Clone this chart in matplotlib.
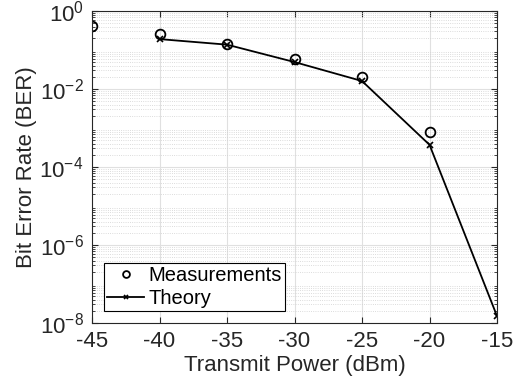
import matplotlib
matplotlib.use('Agg')
import matplotlib.pyplot as plt
import matplotlib.ticker as ticker

# Measured and theoretical BER vs transmit power
meas_power = [-45, -40, -35, -30, -25, -20]
meas_ber = [0.41, 0.25, 0.145, 0.058, 0.020, 8.1e-4]

theory_power = [-40, -35, -30, -25, -20, -15]
theory_ber = [0.19, 0.137, 0.049, 0.016, 3.7e-4, 1.5e-8]

x_ticks = [-45, -40, -35, -30, -25, -20, -15]

plt.rcParams['font.family'] = ['Liberation Sans', 'DejaVu Sans']
plt.rcParams['mathtext.fontset'] = 'custom'
plt.rcParams['mathtext.rm'] = 'Liberation Sans'
plt.rcParams['mathtext.default'] = 'regular'

fig = plt.figure(figsize=(5.21, 3.88), dpi=100)
ax = fig.add_axes([0.1766, 0.1675, 0.7774, 0.8042])

ax.semilogy(meas_power, meas_ber, linestyle='none', marker='o', markersize=7,
            markerfacecolor='none', markeredgecolor='black', markeredgewidth=1.3,
            label='Measurements')
ax.semilogy(theory_power, theory_ber, color='black', linewidth=1.3, marker='x',
            markersize=5, markeredgewidth=1.2, label='Theory')

ax.set_xlim(-45, -15)
ax.set_ylim(1e-8, 1e0)
ax.set_xticks(x_ticks)
ax.set_xticklabels([str(t) for t in x_ticks])
ax.set_yticks([1e-8, 1e-6, 1e-4, 1e-2, 1e0])
ax.yaxis.set_minor_locator(ticker.LogLocator(base=10, subs=range(2, 10), numticks=50))
ax.yaxis.set_minor_formatter(ticker.NullFormatter())

ax.grid(True, which='major', color='#e0e0e0', linewidth=0.8, linestyle='-')
ax.grid(True, which='minor', axis='y', color='#d0d0d0', linewidth=0.6, linestyle=':')
ax.set_axisbelow(True)

ax.tick_params(which='both', direction='in', top=True, right=True, labelsize=16,
               colors='#262626')
ax.tick_params(which='major', length=4, pad=6)
ax.tick_params(which='minor', length=2)
for s in ax.spines.values():
    s.set_color('#262626')
    s.set_linewidth(0.8)

ax.set_xlabel('Transmit Power (dBm)', fontsize=16, color='#262626', labelpad=2)
ax.set_ylabel('Bit Error Rate (BER)', fontsize=16, color='#262626', labelpad=2)

leg = ax.legend(loc='lower left', bbox_to_anchor=(0.0, 0.0), fontsize=14.5,
                fancybox=False, framealpha=1, edgecolor='black',
                handlelength=1.85, handletextpad=0.2, borderpad=0.15,
                labelspacing=0.2, borderaxespad=0.6, markerscale=0.7)
leg.get_frame().set_linewidth(0.8)

plt.savefig('out.png', dpi=100)
plt.close()
